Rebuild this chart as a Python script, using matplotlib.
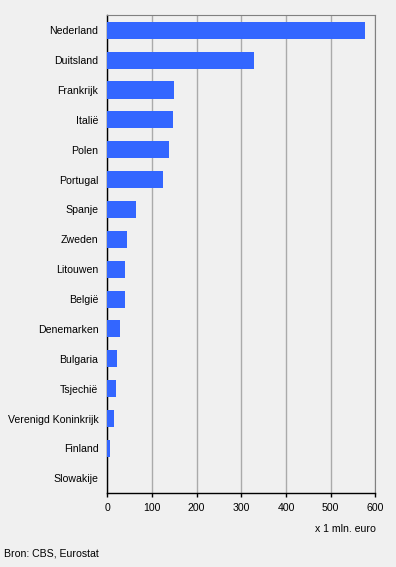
import matplotlib.pyplot as plt

# Data
countries = ['Nederland', 'Duitsland', 'Frankrijk', 'Italië', 'Polen', 'Portugal',
             'Spanje', 'Zweden', 'Litouwen', 'België', 'Denemarken', 'Bulgaria',
             'Tsjechië', 'Verenigd Koninkrijk', 'Finland', 'Slowakije']
values = [577, 328, 149, 146, 138, 125, 64, 44, 40, 40, 28, 22, 19, 15, 6, 0]
xticks = [0, 100, 200, 300, 400, 500, 600]

plt.rcParams['font.family'] = ['Liberation Sans', 'DejaVu Sans']
bg = '#f0f0f0'
fs = 7.6

fig = plt.figure(figsize=(3.96, 5.67), dpi=100, facecolor=bg)
ax = fig.add_axes([0.271, 0.130, 0.677, 0.843], facecolor=bg)

ypos = list(range(len(countries)))
ax.barh(ypos, values, height=0.57, color='#3366ff', zorder=3)

ax.set_ylim(len(countries) - 0.5, -0.5)
ax.set_xlim(0, 600)
ax.set_yticks(ypos)
ax.set_yticklabels(countries, fontsize=fs)
ax.set_xticks(xticks)
ax.set_xticklabels([str(t) for t in xticks], fontsize=fs)
ax.tick_params(axis='y', length=0, pad=6.5)
ax.tick_params(axis='x', length=3, width=1, direction='out', pad=4)

ax.grid(axis='x', color='#aaaaaa', linewidth=1, zorder=0)
ax.set_axisbelow(True)

for side in ['top', 'right']:
    ax.spines[side].set_color('#808080')
for side in ['left', 'bottom']:
    ax.spines[side].set_color('black')
    ax.spines[side].set_linewidth(1)

fig.text(0.949, 1 - 529 / 567, 'x 1 mln. euro', fontsize=fs, ha='right', va='center')
fig.text(0.01, 1 - 554 / 567, 'Bron: CBS, Eurostat', fontsize=fs, ha='left', va='center')

fig.savefig('out.png', dpi=100, facecolor=bg)
